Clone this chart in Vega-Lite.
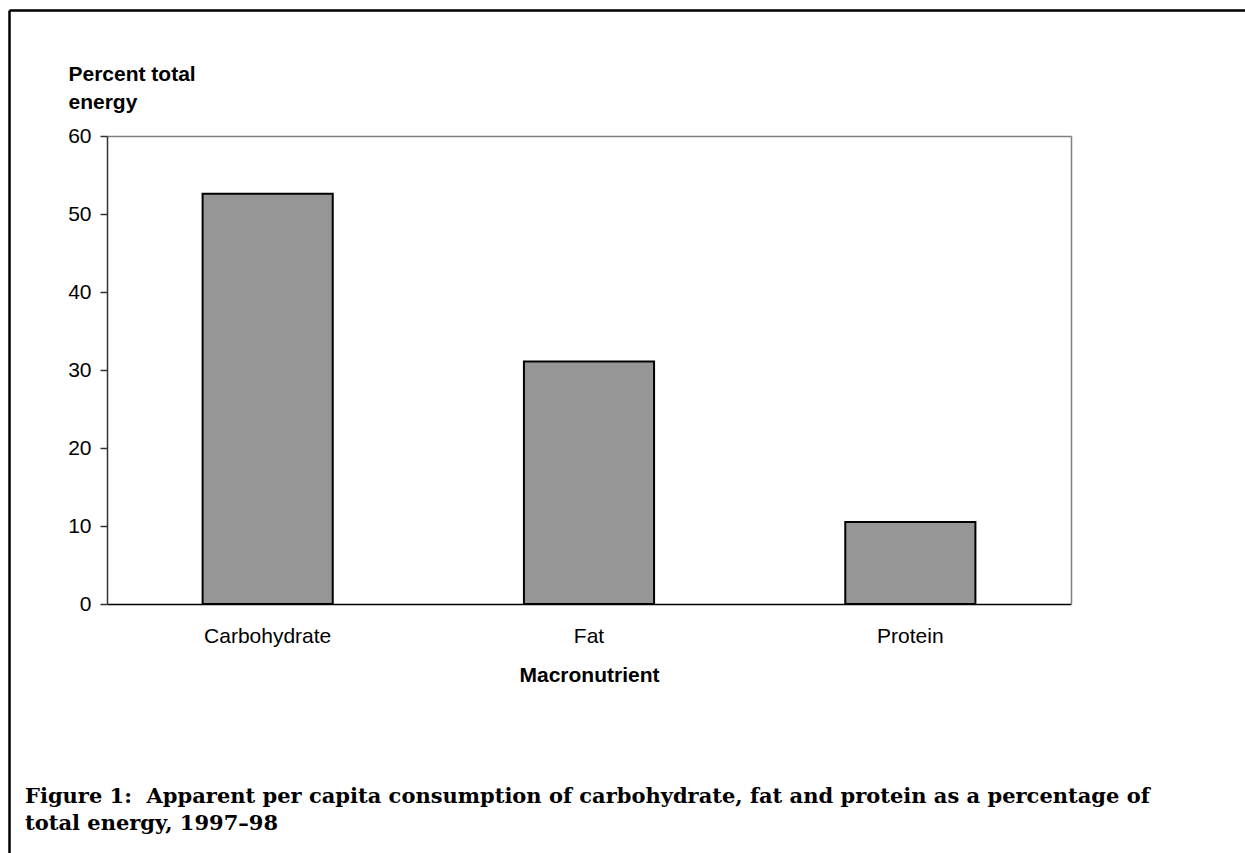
{
  "$schema": "https://vega.github.io/schema/vega-lite/v6.json",
  "width": 1236,
  "height": 843,
  "autosize": {"type": "none"},
  "padding": {"left": 9, "top": 10, "right": 0, "bottom": 0},
  "background": "white",
  "config": {
    "view": {"stroke": null},
    "font": "Liberation Sans",
    "axis": {"grid": false, "labelFont": "Liberation Sans", "titleFont": "Liberation Sans", "labelColor": "black", "titleColor": "black"}
  },
  "title": {
    "text": ["Figure 1:\u00a0 Apparent per capita consumption of carbohydrate, fat and protein as a percentage of", "total energy, 1997–98"],
    "orient": "bottom",
    "anchor": "start",
    "frame": "group",
    "offset": -67,
    "dx": 16,
    "font": "DejaVu Serif",
    "fontSize": 21,
    "fontWeight": "bold",
    "color": "black",
    "lineHeight": 27
  },
  "data": {
    "values": [
      {"Nutrient": "Carbohydrate", "Percent": 52.6},
      {"Nutrient": "Fat", "Percent": 31.1},
      {"Nutrient": "Protein", "Percent": 10.5}
    ]
  },
  "resolve": {"scale": {"x": "independent", "y": "independent"}, "axis": {"x": "independent", "y": "independent"}},
  "layer": [
    {
      "mark": {"type": "point", "opacity": 0, "size": 0},
      "encoding": {
        "x": {"field": "Nutrient", "type": "nominal", "scale": {"range": [0, 1236]},
          "axis": {"orient": "top", "labels": false, "ticks": false, "title": null, "domainColor": "black", "domainWidth": 2.5}},
        "y": {"field": "Percent", "type": "quantitative", "scale": {"range": [843, 0]},
          "axis": {"orient": "left", "labels": false, "ticks": false, "title": null, "domainColor": "black", "domainWidth": 2.5}}
      }
    },
    {
      "mark": {"type": "point", "opacity": 0, "size": 0},
      "encoding": {
        "x": {"field": "Nutrient", "type": "nominal", "scale": {"range": [98, 1062]},
          "axis": {"orient": "top", "offset": -126, "labels": false, "ticks": false, "title": null, "domainColor": "#808080", "domainWidth": 1.5}},
        "y": {"field": "Percent", "type": "quantitative", "scale": {"domain": [0, 60], "range": [594, 126], "nice": false},
          "axis": {"orient": "right", "offset": -174, "labels": false, "ticks": false, "title": null, "domainColor": "#808080", "domainWidth": 1.5}}
      }
    },
    {
      "mark": {"type": "bar", "color": "#969696", "stroke": "black", "strokeWidth": 2, "width": {"band": 0.405}},
      "encoding": {
        "x": {"field": "Nutrient", "type": "nominal", "sort": null,
          "scale": {"range": [98, 1062], "paddingInner": 0, "paddingOuter": 0},
          "axis": {"orient": "bottom", "offset": -249, "labelAngle": 0, "ticks": false, "tickSize": 0, "labelPadding": 21, "labelFontSize": 21,
            "domainColor": "black", "domainWidth": 1.5,
            "title": "Macronutrient", "titleFontSize": 21, "titleFontWeight": "bold", "titlePadding": 18}},
        "y": {"field": "Percent", "type": "quantitative",
          "scale": {"domain": [0, 60], "range": [594, 126], "nice": false},
          "axis": {"orient": "left", "offset": -98, "values": [0, 10, 20, 30, 40, 50, 60], "tickSize": 7, "tickColor": "#333333", "tickWidth": 1.5,
            "domainColor": "#333333", "domainWidth": 1.5, "labelPadding": 9, "labelFontSize": 21,
            "title": ["Percent total", "energy"], "titleAngle": 0, "titleAlign": "left", "titleBaseline": "alphabetic",
            "titleX": -39, "titleY": 70, "titleFontSize": 21, "titleFontWeight": "bold", "titleLineHeight": 28}}
      }
    }
  ]
}
